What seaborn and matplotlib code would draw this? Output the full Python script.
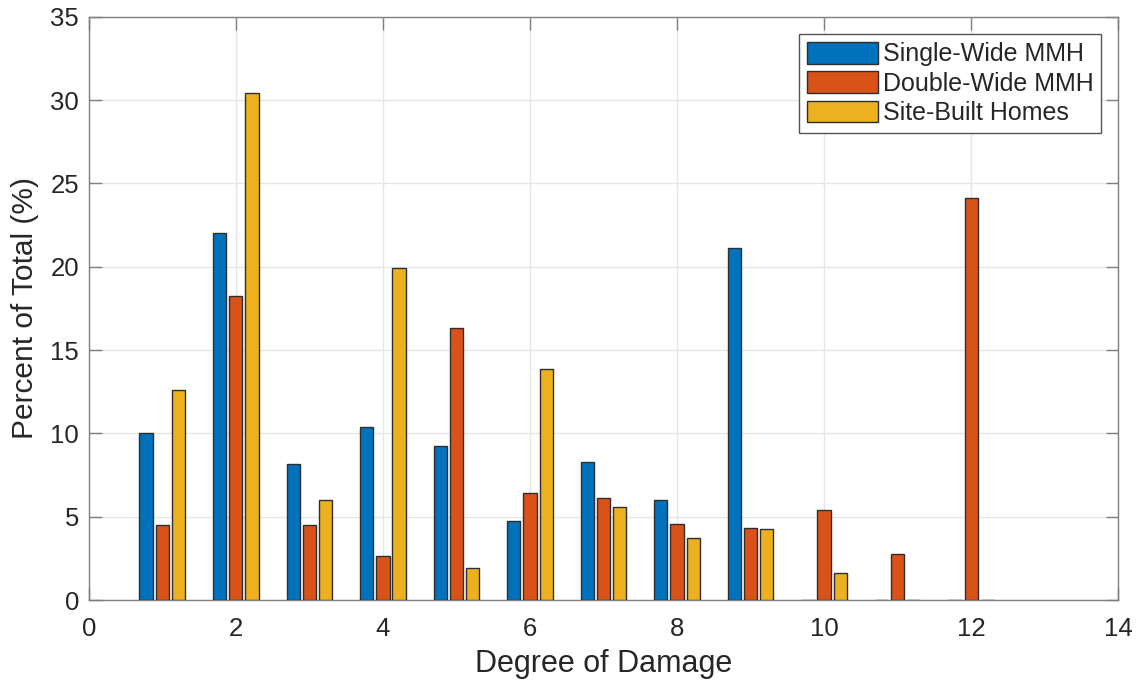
import matplotlib
matplotlib.use("Agg")
import matplotlib.pyplot as plt
import seaborn as sns
import pandas as pd

# Damage-state distribution by housing type
degrees = [1, 2, 3, 4, 5, 6, 7, 8, 9, 10, 11, 12]
single_wide = [10.0, 22.0, 8.15, 10.4, 9.25, 4.75, 8.3, 6.0, 21.1, 0.0, 0.0, 0.0]
double_wide = [4.5, 18.25, 4.5, 2.65, 16.35, 6.45, 6.1, 4.55, 4.3, 5.4, 2.75, 24.1]
site_built = [12.6, 30.45, 6.0, 19.95, 1.9, 13.85, 5.6, 3.7, 4.25, 1.65, 0.0, 0.0]

series_names = ["Single-Wide MMH", "Double-Wide MMH", "Site-Built Homes"]
series_colors = ["#0072BD", "#D95319", "#EDB120"]
x_ticks = [0, 2, 4, 6, 8, 10, 12, 14]
y_ticks = [0, 5, 10, 15, 20, 25, 30, 35]

df = pd.DataFrame({
    "Degree": degrees * 3,
    "Percent": single_wide + double_wide + site_built,
    "Type": [series_names[0]] * len(degrees)
    + [series_names[1]] * len(degrees)
    + [series_names[2]] * len(degrees),
})

sns.set_theme(style="white")
plt.rcParams["font.family"] = ["Liberation Sans", "DejaVu Sans"]
text_color = "#262626"
axis_color = "#7f7f7f"

fig = plt.figure(figsize=(11.38, 6.8), dpi=100)
ax = fig.add_axes([88.7 / 1138, 1 - 600 / 680, (1118.3 - 88.7) / 1138, (600 - 16.7) / 680])

sns.barplot(
    data=df, x="Degree", y="Percent", hue="Type",
    hue_order=series_names, palette=series_colors,
    native_scale=True, width=0.66, gap=0.18, errorbar=None,
    edgecolor="#2e2e2e", linewidth=1.0, saturation=1, ax=ax, zorder=3,
)

ax.set_xlim(0, 14)
ax.set_ylim(0, 35)
ax.set_xticks(x_ticks)
ax.set_yticks(y_ticks)
ax.set_xticklabels([str(t) for t in x_ticks])
ax.set_yticklabels([str(t) for t in y_ticks])

ax.grid(True, color="#e6e6e6", linewidth=1.0, zorder=0)
ax.set_axisbelow(True)

for side in ["left", "right", "top", "bottom"]:
    ax.spines[side].set_visible(True)
    ax.spines[side].set_color(axis_color)
    ax.spines[side].set_linewidth(1.0)

ax.tick_params(axis="both", which="both", direction="in", length=9, width=1.0,
               color=axis_color, labelsize=18.5, labelcolor=text_color,
               top=True, right=True, bottom=True, left=True)
ax.tick_params(axis="x", pad=12)
ax.tick_params(axis="y", pad=7)

ax.set_xlabel("Degree of Damage", fontsize=22, color=text_color, labelpad=6)
ax.set_ylabel("Percent of Total (%)", fontsize=21.5, color=text_color, labelpad=8)

handles, labels = ax.get_legend_handles_labels()
leg = ax.legend(handles, labels, loc="upper right", bbox_to_anchor=(0.9835, 0.9695),
                fontsize=18, frameon=True, fancybox=False, framealpha=1,
                edgecolor="#555555", handlelength=2.85, handleheight=0.95,
                handletextpad=0.2, labelspacing=0.2, borderpad=0.3,
                borderaxespad=0.0)
leg.get_frame().set_linewidth(1.0)
for t in leg.get_texts():
    t.set_color(text_color)

fig.savefig("out.png", dpi=100, facecolor="white")
